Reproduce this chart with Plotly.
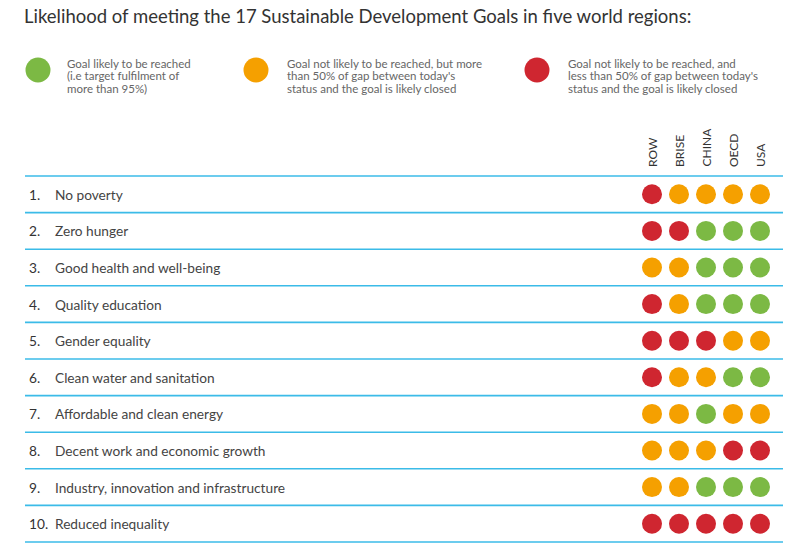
import plotly.graph_objects as go

title = "Likelihood of meeting the 17 Sustainable Development Goals in five world regions:"
regions = ["ROW", "BRISE", "CHINA", "OECD", "USA"]
goals = ["No poverty", "Zero hunger", "Good health and well-being", "Quality education",
         "Gender equality", "Clean water and sanitation", "Affordable and clean energy",
         "Decent work and economic growth", "Industry, innovation and infrastructure",
         "Reduced inequality"]
# G = likely reached, O = not likely but >50% gap closed, R = not likely, <50% closed
status = [
    ["R", "O", "O", "O", "O"],
    ["R", "R", "G", "G", "G"],
    ["O", "O", "G", "G", "G"],
    ["R", "O", "G", "G", "G"],
    ["R", "R", "R", "O", "O"],
    ["R", "O", "O", "G", "G"],
    ["O", "O", "G", "O", "O"],
    ["O", "O", "O", "R", "R"],
    ["O", "O", "G", "G", "G"],
    ["R", "R", "R", "R", "R"],
]
legend_keys = ["G", "O", "R"]
legend_texts = [
    ["Goal likely to be reached", "(i.e target fulfilment of", "more than 95%)"],
    ["Goal not likely to be reached, but more", "than 50% of gap between today's",
     "status and the goal is likely closed"],
    ["Goal not likely to be reached, and", "less than 50% of gap between today's",
     "status and the goal is likely closed"],
]

COLORS = {"G": "#7cb944", "O": "#f5a000", "R": "#cf2630"}
LINE = "#3bbbe8"
FONT = "Lato"
W, H = 805, 547

# layout constants (pixels)
line_top = 176.0
row_h = 36.6
col_x0 = 652.0
col_dx = 27.0
line_x0, line_x1 = 25, 783

fig = go.Figure()

# dots
xs, ys, cs = [], [], []
for i, row in enumerate(status):
    for j, s in enumerate(row):
        xs.append(col_x0 + j * col_dx)
        ys.append(line_top + row_h * (i + 0.5))
        cs.append(COLORS[s])
fig.add_trace(go.Scatter(x=xs, y=ys, mode="markers",
                         marker=dict(size=20, color=cs, line=dict(width=0)),
                         hoverinfo="skip", showlegend=False))

# legend dots
leg_x = [38, 256, 537]
fig.add_trace(go.Scatter(x=leg_x, y=[70] * 3, mode="markers",
                         marker=dict(size=25, color=[COLORS[k] for k in legend_keys], line=dict(width=0)),
                         hoverinfo="skip", showlegend=False))

shapes = []
for k in range(len(goals) + 1):
    y = line_top + row_h * k
    shapes.append(dict(type="line", xref="x", yref="y", x0=line_x0, x1=line_x1, y0=y, y1=y,
                       line=dict(color=LINE, width=1.6)))

ann = []
ann.append(dict(x=22, y=16, xref="x", yref="y", text=title, showarrow=False,
                xanchor="left", yanchor="middle",
                font=dict(family=FONT, size=18.5, color="#333333")))
leg_tx = [65, 285, 566]
for lines, x in zip(legend_texts, leg_tx):
    for k, t in enumerate(lines):
        ann.append(dict(x=x, y=63 + 12.5 * k, xref="x", yref="y", text=t, showarrow=False,
                        align="left", xanchor="left", yanchor="middle",
                        font=dict(family=FONT, size=11.5, color="#666666")))
for j, r in enumerate(regions):
    ann.append(dict(x=col_x0 + j * col_dx, y=169, xref="x", yref="y", text=r, showarrow=False,
                    textangle=-90, xanchor="center", yanchor="bottom",
                    font=dict(family=FONT, size=12, color="#333333")))
for i, g in enumerate(goals):
    y = line_top + row_h * (i + 0.5)
    ann.append(dict(x=27, y=y, xref="x", yref="y", text=f"{i + 1}.", showarrow=False,
                    xanchor="left", yanchor="middle",
                    font=dict(family=FONT, size=13.7, color="#333333")))
    ann.append(dict(x=53, y=y, xref="x", yref="y", text=g, showarrow=False,
                    xanchor="left", yanchor="middle",
                    font=dict(family=FONT, size=13.7, color="#444444")))

fig.update_layout(
    width=W, height=H, margin=dict(l=0, r=0, t=0, b=0),
    paper_bgcolor="white", plot_bgcolor="white",
    xaxis=dict(range=[0, W], visible=False, fixedrange=True),
    yaxis=dict(range=[H, 0], visible=False, fixedrange=True),
    shapes=shapes, annotations=ann,
)
fig.write_html("out.html", config={"displayModeBar": False},
               post_script="document.body.style.margin='0';document.body.style.overflow='hidden';")
